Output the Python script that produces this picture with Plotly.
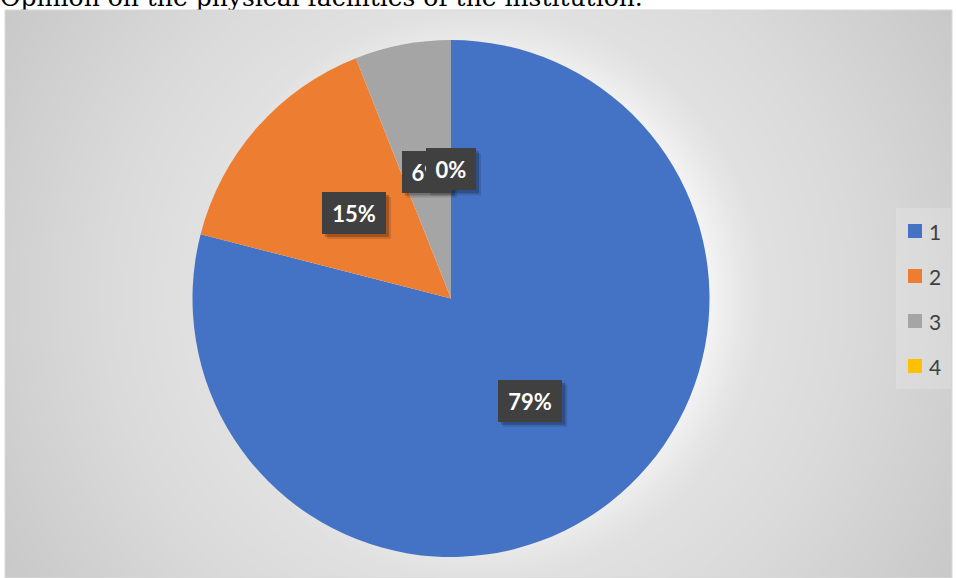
import base64
import struct
import zlib

import numpy as np
import plotly.graph_objects as go

# ---------------- data ----------------
title_text = "Opinion on the physical facilities of the institution."
categories = ["1", "2", "3", "4"]
values = [79, 15, 6, 0]
colors = ["#4472C4", "#ED7D31", "#A5A5A5", "#FFC000"]

W, H = 956, 578

# ---------------- background (radial gradient chart area) ----------------
bx0, by0, bx1, by1 = 5, 10, 952, 578
bw, bh = bx1 - bx0, by1 - by0
yy, xx = np.mgrid[0:bh, 0:bw]
d = np.hypot(xx - bw / 2, yy - bh / 2)
g = np.interp(d, [0, 190, 232, 266, 286, 380, 540, 580],
              [255, 252, 243, 230, 225, 218, 202, 200]).astype(np.uint8)


def png_gray(arr):
    h, w = arr.shape
    raw = b"".join(b"\x00" + arr[i].tobytes() for i in range(h))

    def chunk(t, dd):
        c = struct.pack(">I", len(dd)) + t + dd
        return c + struct.pack(">I", zlib.crc32(t + dd) & 0xFFFFFFFF)

    ihdr = struct.pack(">IIBBBBB", w, h, 8, 0, 0, 0, 0)
    return (b"\x89PNG\r\n\x1a\n" + chunk(b"IHDR", ihdr)
            + chunk(b"IDAT", zlib.compress(raw, 9)) + chunk(b"IEND", b""))


bg_uri = "data:image/png;base64," + base64.b64encode(png_gray(g)).decode()


def px(x):
    return x / W


def py(y):
    return 1 - y / H


# ---------------- pie geometry ----------------
pcx, pcy, pr = 451, 298.5, 258.5
dom_x = [px(pcx - pr), px(pcx + pr)]
dom_y = [py(pcy + pr), py(pcy - pr)]

fig = go.Figure()
fig.add_trace(go.Pie(
    labels=categories, values=values, sort=False, direction="clockwise",
    rotation=0, marker=dict(colors=colors, line=dict(width=0)),
    textinfo="none", hoverinfo="label+percent", showlegend=False,
    domain=dict(x=dom_x, y=dom_y),
))

# title (clipped at the top of the chart box)
fig.add_trace(go.Scatter(
    x=[0], y=[10], mode="text", text=[title_text], textposition="middle right",
    textfont=dict(family="DejaVu Serif", size=25, color="#000000"),
    cliponaxis=True, showlegend=False, hoverinfo="skip",
))

shapes = [
    dict(type="rect", xref="paper", yref="paper", x0=px(bx0), x1=px(bx1),
         y0=py(by1), y1=py(by0), line=dict(color="#D9D9D9", width=1),
         fillcolor="rgba(0,0,0,0)", layer="above"),
    dict(type="rect", xref="paper", yref="paper", x0=px(896), x1=px(951),
         y0=py(389), y1=py(208), line=dict(width=0),
         fillcolor="rgba(255,255,255,0.18)", layer="below"),
]
annotations = []
total = sum(values)
cum = 0.0
BOX_H = 42
for cat, v in zip(categories, values):
    frac = v / total
    mid = cum + frac / 2
    cum += frac
    th = 2 * np.pi * mid
    lx = pcx + 0.5 * pr * np.sin(th)
    ly = pcy - 0.5 * pr * np.cos(th)
    txt = f"{round(frac * 100)}%"
    bwid = 14 * len(txt) + 22
    # soft drop shadow
    for off, alpha in [(5, 0.12), (3, 0.22)]:
        shapes.append(dict(
            type="rect", xref="paper", yref="paper", layer="above",
            x0=px(lx - bwid / 2 + off), x1=px(lx + bwid / 2 + off),
            y0=py(ly + BOX_H / 2 + off), y1=py(ly - BOX_H / 2 + off),
            fillcolor=f"rgba(0,0,0,{alpha})", line=dict(width=0),
        ))
    annotations.append(dict(
        x=px(lx), y=py(ly), xref="paper", yref="paper", showarrow=False,
        xanchor="center", yanchor="middle",
        text=txt, font=dict(family="Lato", size=22, color="#FFFFFF", weight="bold"),
        bgcolor="#404040", width=bwid, height=BOX_H, borderpad=0, borderwidth=0,
    ))

# legend (manual, Excel style)
for i, (cat, col) in enumerate(zip(categories, colors)):
    cy = 231 + 45 * i
    shapes.append(dict(type="rect", xref="paper", yref="paper",
                       x0=px(908), x1=px(922), y0=py(cy + 7), y1=py(cy - 7),
                       fillcolor=col, line=dict(width=0)))
    annotations.append(dict(x=px(927), y=py(cy), xref="paper", yref="paper",
                            xanchor="left", yanchor="middle", showarrow=False,
                            text=cat, font=dict(family="Lato", size=21, color="#404040")))

fig.update_layout(
    width=W, height=H, margin=dict(l=0, r=0, t=0, b=0),
    paper_bgcolor="#FFFFFF", plot_bgcolor="rgba(0,0,0,0)",
    xaxis=dict(domain=[0, 1], range=[0, W], visible=False, fixedrange=True),
    yaxis=dict(domain=[py(by0), 1], range=[0, 10], visible=False, fixedrange=True),
    images=[dict(source=bg_uri, xref="paper", yref="paper", x=px(bx0), y=py(by0),
                 sizex=bw / W, sizey=bh / H, xanchor="left", yanchor="top",
                 sizing="stretch", layer="below")],
    shapes=shapes, annotations=annotations,
)

fig.write_html(
    "out.html",
    config={"displayModeBar": False},
    post_script="document.body.style.margin='0';document.body.style.overflow='hidden';",
)
